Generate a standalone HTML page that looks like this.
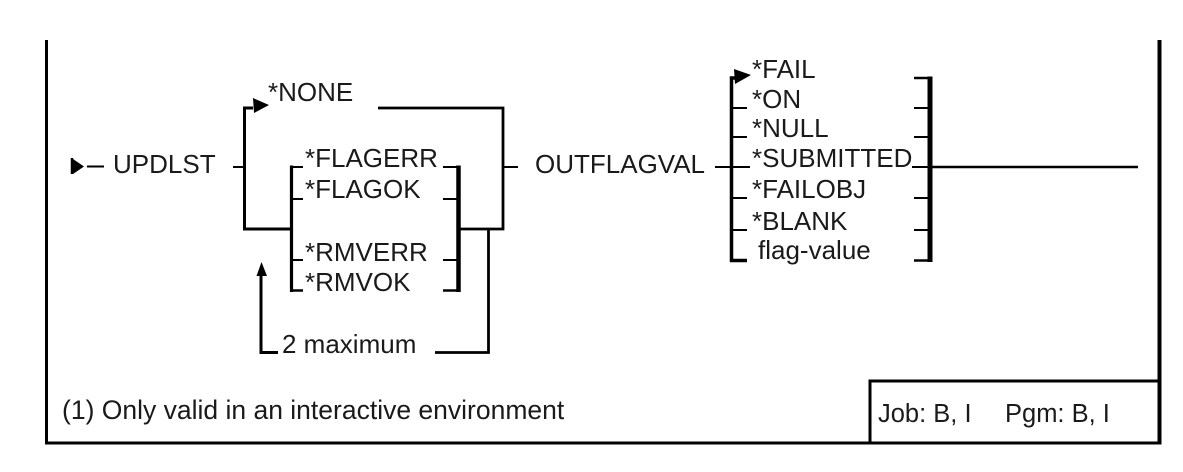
<!DOCTYPE html>
<html>
<head>
<meta charset="utf-8">
<style>
  html, body { margin: 0; padding: 0; background: #ffffff; }
  svg { display: block; }
  text { font-family: "Liberation Sans", Arial, sans-serif; font-size: 26px; fill: #1a1a1a; }
</style>
</head>
<body>
<svg width="1183" height="472" viewBox="0 0 1183 472" xmlns="http://www.w3.org/2000/svg">
  <rect x="0" y="0" width="1183" height="472" fill="#ffffff"/>

  <!-- outer frame -->
  <g stroke="#000" fill="none">
    <line x1="46.5" y1="40" x2="46.5" y2="444.5" stroke-width="3"/>
    <line x1="1159.5" y1="40" x2="1159.5" y2="444.5" stroke-width="4"/>
    <line x1="45" y1="443" x2="1161.5" y2="443" stroke-width="3"/>
    <!-- job box -->
    <line x1="870" y1="381" x2="870" y2="444" stroke-width="3"/>
    <line x1="868.5" y1="381" x2="1160" y2="381" stroke-width="3"/>
  </g>

  <!-- start arrow -->
  <g stroke="#000" fill="none">
    <line x1="72" y1="158" x2="72" y2="174" stroke-width="2.5"/>
    <line x1="87" y1="166.5" x2="104" y2="166.5" stroke-width="2"/>
    <line x1="233" y1="167" x2="245" y2="167" stroke-width="2"/>
  </g>
  <polygon points="73,159 84,166.5 73,174" fill="#000"/>
  <text x="113" y="173">UPDLST</text>

  <!-- outer option bracket -->
  <g stroke="#000" fill="none">
    <polyline points="253,108 244.5,108 244.5,229 291,229" stroke-width="3"/>
    <polyline points="378,108 503,108 503,229 459,229" stroke-width="2.8"/>
    <line x1="503" y1="167" x2="518" y2="167" stroke-width="2"/>
  </g>
  <polygon points="253,98 269,105 254,113" fill="#000"/>
  <text x="268" y="101">*NONE</text>

  <!-- inner bracket -->
  <g stroke="#000" fill="none">
    <line x1="291.5" y1="165.5" x2="291.5" y2="292" stroke-width="3.2"/>
    <line x1="290" y1="167" x2="303" y2="167" stroke-width="2"/>
    <line x1="290" y1="199" x2="303" y2="199" stroke-width="2"/>
    <line x1="290" y1="260" x2="303" y2="260" stroke-width="2"/>
    <line x1="290" y1="290.5" x2="303" y2="290.5" stroke-width="2.5"/>
    <line x1="458.5" y1="165.5" x2="458.5" y2="292" stroke-width="4.5"/>
    <line x1="443" y1="167" x2="457" y2="167" stroke-width="2"/>
    <line x1="443" y1="199" x2="457" y2="199" stroke-width="2"/>
    <line x1="443" y1="260" x2="457" y2="260" stroke-width="2"/>
    <line x1="443" y1="290.5" x2="457" y2="290.5" stroke-width="2.5"/>
  </g>
  <text x="305" y="167">*FLAGERR</text>
  <text x="305" y="198">*FLAGOK</text>
  <text x="305" y="261">*RMVERR</text>
  <text x="305" y="291">*RMVOK</text>

  <!-- repeat loop -->
  <g stroke="#000" fill="none">
    <polyline points="488.5,229 488.5,352.5 435,352.5" stroke-width="2.8"/>
    <polyline points="261,268 261,352.5 278,352.5" stroke-width="3"/>
  </g>
  <polygon points="256.5,276 261.5,262 267,276" fill="#000"/>
  <text x="282" y="353">2 maximum</text>

  <!-- OUTFLAGVAL -->
  <text x="535" y="173">OUTFLAGVAL</text>
  <g stroke="#000" fill="none">
    <line x1="715" y1="167" x2="731" y2="167" stroke-width="2"/>
    <polyline points="736,78 731.5,78 731.5,260.5 747,260.5" stroke-width="3.5"/>
    <line x1="733" y1="108" x2="747" y2="108" stroke-width="2"/>
    <line x1="733" y1="137" x2="747" y2="137" stroke-width="2"/>
    <line x1="733" y1="167" x2="750" y2="167" stroke-width="2"/>
    <line x1="733" y1="198" x2="747" y2="198" stroke-width="2"/>
    <line x1="733" y1="230" x2="747" y2="230" stroke-width="2"/>
    <!-- right bracket -->
    <line x1="930" y1="76.5" x2="930" y2="262" stroke-width="5"/>
    <line x1="914" y1="78" x2="928" y2="78" stroke-width="2.5"/>
    <line x1="914" y1="108" x2="928" y2="108" stroke-width="2"/>
    <line x1="914" y1="137" x2="928" y2="137" stroke-width="2"/>
    <line x1="912" y1="167" x2="928" y2="167" stroke-width="2"/>
    <line x1="914" y1="198" x2="928" y2="198" stroke-width="2"/>
    <line x1="914" y1="230" x2="928" y2="230" stroke-width="2"/>
    <line x1="914" y1="260.5" x2="928" y2="260.5" stroke-width="2.5"/>
    <line x1="932" y1="167" x2="1138" y2="167" stroke-width="2.5"/>
  </g>
  <polygon points="734,69 751,75 735,84" fill="#000"/>
  <text x="752" y="78">*FAIL</text>
  <text x="752" y="108">*ON</text>
  <text x="752" y="137">*NULL</text>
  <text x="752" y="167">*SUBMITTED</text>
  <text x="752" y="198">*FAILOBJ</text>
  <text x="752" y="230">*BLANK</text>
  <text x="758" y="259">flag-value</text>

  <!-- footnote -->
  <text x="62" y="419" style="font-size:26.5px">(1) Only valid in an interactive environment</text>
  <text x="878" y="422" style="font-size:25.5px">Job: B, I</text>
  <text x="1005" y="422" style="font-size:25.5px">Pgm: B, I</text>
</svg>
</body>
</html>
